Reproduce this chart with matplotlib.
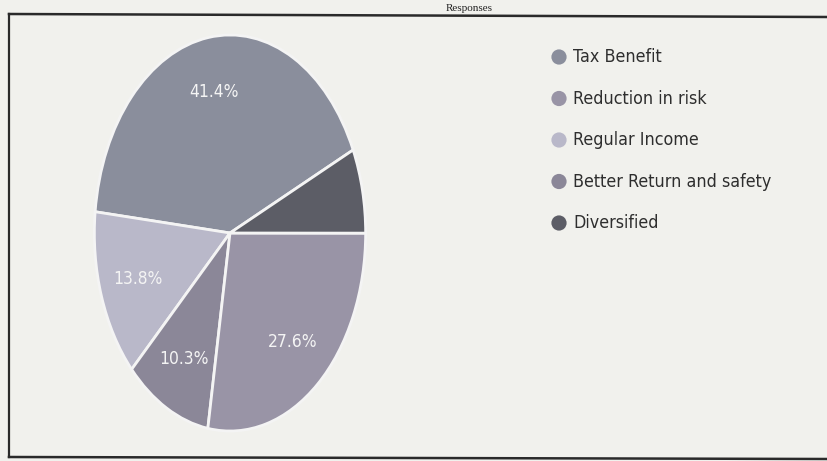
import matplotlib
matplotlib.use('Agg')
import matplotlib.pyplot as plt

# legend order
labels = ['Tax Benefit', 'Reduction in risk', 'Regular Income',
          'Better Return and safety', 'Diversified']
colors = ['#8a8e9c', '#9994a6', '#b9b8c9', '#8b8798', '#5c5d66']

# slices as drawn, counter-clockwise from the upper right edge
slice_labels = ['Tax Benefit', 'Regular Income', 'Better Return and safety',
                'Reduction in risk', 'Diversified']
slice_values = [41.4, 13.8, 10.3, 27.6, 6.9]

W, H = 828, 461
fig = plt.figure(figsize=(W / 100, H / 100), dpi=100)
fig.patch.set_facecolor('#f1f1ed')

# pie axes stretched so the pie comes out as an upright ellipse
ax = fig.add_axes([93 / W, 1 - 433 / H, 274 / W, 400 / H])
slice_colors = [colors[labels.index(s)] for s in slice_labels]
wedges, texts, autotexts = ax.pie(
    slice_values, colors=slice_colors, startangle=24.8, counterclock=True,
    autopct=lambda p: f'{p:.1f}%' if p > 10 else '', pctdistance=0.72,
    wedgeprops=dict(edgecolor='#f4f4f4', linewidth=2))
for t in autotexts:
    t.set_color('#f4f4f4')
    t.set_fontsize(12.5)
    t.set_fontstretch('condensed')
ax.set_aspect('auto')
ax.set_xlim(-1.01, 1.01)
ax.set_ylim(-1.01, 1.01)
ax.axis('off')

# overlay in pixel coords for frame, legend and title
ov = fig.add_axes([0, 0, 1, 1], zorder=5)
ov.set_xlim(0, W)
ov.set_ylim(H, 0)
ov.axis('off')
ov.patch.set_alpha(0)
ov.plot([9, 828], [14, 17], color='#2a2a2a', lw=1.8)
ov.plot([9, 9], [14, 457], color='#2a2a2a', lw=1.6)
ov.plot([9, 828], [457, 459], color='#2a2a2a', lw=1.8)
ov.text(493, 11, 'Responses', ha='right', va='baseline', fontsize=8,
        family='Liberation Serif', color='#222222')

for i, lab in enumerate(labels):
    y = 57 + i * 41.5
    ov.scatter([559], [y], s=120, color=colors[i], edgecolors='none')
    ov.text(573, y, lab, va='center', ha='left', fontsize=12.8,
            fontstretch='condensed', color='#2e2e2e')

fig.savefig('out.png', dpi=100, facecolor=fig.get_facecolor())
